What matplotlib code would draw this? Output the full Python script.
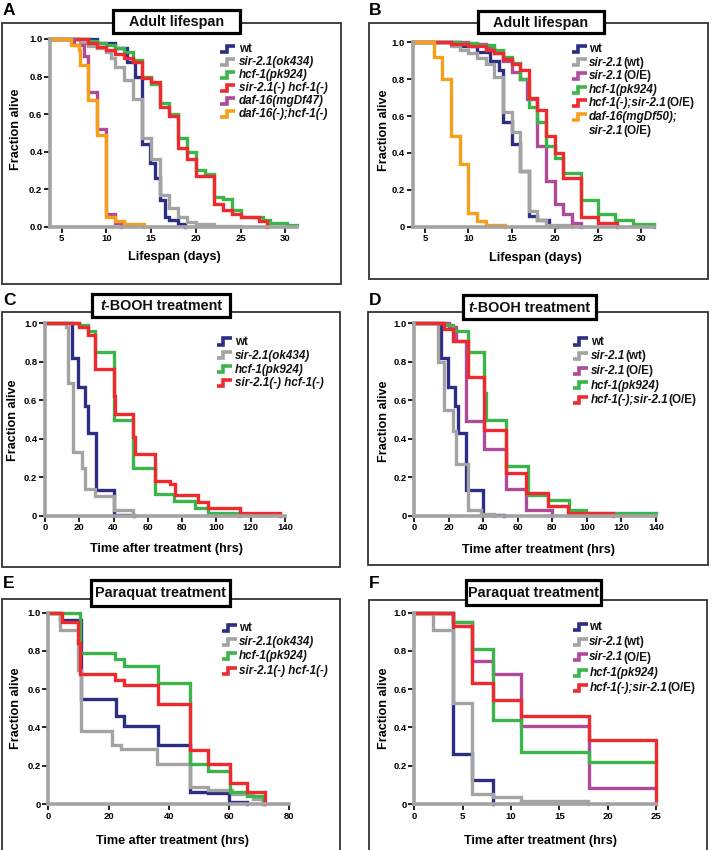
import matplotlib
matplotlib.use('Agg')
import matplotlib.pyplot as plt
from matplotlib.lines import Line2D
from matplotlib.patches import Rectangle
from matplotlib.offsetbox import TextArea, HPacker, AnnotationBbox

plt.rcParams['font.family'] = ['Liberation Sans', 'DejaVu Sans']

W, H = 712, 850

# ---------------- data (time, fraction alive) ----------------
# Panel A : adult lifespan (days)
A_wt_t = [3.7, 9, 11, 12.3, 13.2, 14, 14.9, 15.4, 16, 16.5, 17, 18, 18.8]
A_wt_s = [1.0, 0.98, 0.95, 0.88, 0.80, 0.44, 0.34, 0.26, 0.14, 0.05, 0.035, 0.014, 0.0]
A_sir_t = [3.7, 7, 8, 9, 10, 10.5, 11, 12, 13, 14, 15, 16, 17, 18, 19, 20, 22, 25]
A_sir_s = [1.0, 0.98, 0.965, 0.95, 0.93, 0.90, 0.85, 0.78, 0.68, 0.47, 0.36, 0.17, 0.10, 0.05, 0.027, 0.012, 0.005, 0.0]
A_hcf_t = [3.7, 8, 9, 10, 11, 12, 13, 14, 15, 16, 17, 18, 19, 20, 21, 22, 23, 24, 25, 27.5, 28.3, 30.2, 31.3]
A_hcf_s = [1.0, 0.99, 0.98, 0.97, 0.95, 0.93, 0.89, 0.80, 0.76, 0.66, 0.60, 0.47, 0.40, 0.30, 0.28, 0.16, 0.15, 0.09, 0.05, 0.035, 0.018, 0.009, 0.009]
A_dbl_t = [3.7, 8, 9, 10, 11, 12, 13, 14, 15, 16, 17, 18, 19, 20, 22, 23, 24, 25, 27, 28]
A_dbl_s = [1.0, 0.98, 0.96, 0.94, 0.92, 0.90, 0.88, 0.79, 0.77, 0.64, 0.59, 0.42, 0.36, 0.27, 0.12, 0.09, 0.065, 0.05, 0.03, 0.0]
A_daf_t = [3.7, 6.4, 7.5, 8, 9, 10, 11, 11.6]
A_daf_s = [1.0, 0.97, 0.91, 0.72, 0.52, 0.065, 0.02, 0.0]
A_dafhcf_t = [3.7, 6, 6.9, 7.05, 8, 9, 10, 11, 12, 14.2]
A_dafhcf_s = [1.0, 0.97, 0.94, 0.86, 0.675, 0.49, 0.05, 0.033, 0.012, 0.0]

# Panel B : adult lifespan (days)
B_wt_t = [3.58, 9, 11, 12.5, 13.5, 14, 15, 16, 17, 18, 19.3, 20.3]
B_wt_s = [1.0, 0.98, 0.95, 0.90, 0.85, 0.57, 0.45, 0.30, 0.058, 0.036, 0.005, 0.0]
B_sir_t = [3.58, 8, 9, 10, 11, 12, 13, 14, 15, 16, 17, 18, 19, 22]
B_sir_s = [1.0, 0.98, 0.96, 0.94, 0.915, 0.88, 0.81, 0.62, 0.515, 0.30, 0.085, 0.035, 0.01, 0.0]
B_oe_t = [3.58, 10, 12, 13, 14, 15, 16, 16.8, 18, 19, 20, 21, 22, 23]
B_oe_s = [1.0, 0.99, 0.97, 0.94, 0.90, 0.84, 0.80, 0.69, 0.44, 0.25, 0.125, 0.07, 0.02, 0.0]
B_hcf_t = [3.58, 9, 11, 13, 14, 15, 16, 17, 18, 19, 20, 21, 23, 25, 27, 29, 31.5]
B_hcf_s = [1.0, 0.995, 0.985, 0.96, 0.92, 0.89, 0.80, 0.65, 0.57, 0.44, 0.37, 0.29, 0.145, 0.07, 0.035, 0.015, 0.0]
B_hcfoe_t = [3.58, 8, 10, 12, 13, 14, 15, 16, 17, 18, 19, 20, 21, 23, 25, 27.2]
B_hcfoe_s = [1.0, 0.99, 0.98, 0.96, 0.94, 0.91, 0.88, 0.85, 0.70, 0.635, 0.49, 0.40, 0.265, 0.05, 0.018, 0.0]
B_daf_t = [3.58, 6, 7, 8, 9, 10, 11, 12, 14.3]
B_daf_s = [1.0, 0.92, 0.80, 0.49, 0.34, 0.075, 0.033, 0.01, 0.0]

# Panel C : t-BOOH (hrs)
C_wt_t = [0, 15.6, 19.4, 23.3, 25.3, 30, 40, 52]
C_wt_s = [1.0, 0.82, 0.67, 0.57, 0.43, 0.135, 0.005, 0.0]
C_sir_t = [0, 12, 13.6, 16.5, 21.4, 23.3, 29.2, 40, 51.5]
C_sir_s = [1.0, 0.98, 0.69, 0.33, 0.25, 0.14, 0.10, 0.03, 0.0]
C_hcf_t = [0, 20, 25, 29.2, 40, 51.5, 64, 75, 87.5, 95.3, 113]
C_hcf_s = [1.0, 0.99, 0.96, 0.85, 0.50, 0.25, 0.115, 0.075, 0.04, 0.012, 0.0]
C_dbl_t = [0, 20, 25, 29.2, 40, 41, 51.5, 52.5, 64, 73, 76, 89, 95.3, 113.7, 137]
C_dbl_s = [1.0, 0.98, 0.94, 0.76, 0.62, 0.53, 0.41, 0.32, 0.18, 0.165, 0.11, 0.07, 0.04, 0.015, 0.0]

# Panel D : t-BOOH (hrs)
D_wt_t = [0, 15.6, 19.4, 23.3, 25.3, 30, 40, 52]
D_wt_s = [1.0, 0.82, 0.67, 0.57, 0.43, 0.135, 0.005, 0.0]
D_sir_t = [0, 13.5, 17.4, 22.2, 24, 30.9, 38.6, 46]
D_sir_s = [1.0, 0.80, 0.55, 0.44, 0.27, 0.03, 0.01, 0.0]
D_oe_t = [0, 20, 24, 30, 40.5, 53.1, 64.7, 80]
D_oe_s = [1.0, 0.98, 0.91, 0.49, 0.345, 0.14, 0.03, 0.0]
D_hcf_t = [0, 17.4, 22.2, 30.9, 40.5, 41.5, 53.1, 65.7, 77.2, 89.8, 99.4, 140]
D_hcf_s = [1.0, 0.99, 0.96, 0.85, 0.64, 0.50, 0.26, 0.11, 0.08, 0.03, 0.012, 0.012]
D_hcfoe_t = [0, 17, 22.2, 30.9, 40.5, 53.1, 64.7, 77.2, 88.8, 115]
D_hcfoe_s = [1.0, 0.97, 0.91, 0.72, 0.445, 0.22, 0.12, 0.05, 0.015, 0.0]

# Panel E : paraquat (hrs)
E_wt_t = [0, 4, 11, 22.5, 25, 36.5, 47, 53, 60, 66]
E_wt_s = [1.0, 0.96, 0.55, 0.46, 0.41, 0.31, 0.065, 0.055, 0.01, 0.0]
E_sir_t = [0, 4, 10, 11, 21, 24, 36, 47, 53, 61, 68, 71.3]
E_sir_s = [1.0, 0.91, 0.70, 0.38, 0.31, 0.285, 0.21, 0.09, 0.075, 0.05, 0.025, 0.0]
E_hcf_t = [0, 10.5, 22, 25, 36.5, 47, 53, 60.3, 66, 71.3]
E_hcf_s = [1.0, 0.79, 0.76, 0.72, 0.63, 0.21, 0.17, 0.065, 0.04, 0.0]
E_dbl_t = [0, 4.4, 10, 10.5, 22, 25, 36.5, 47, 53, 60.3, 66, 72]
E_dbl_s = [1.0, 0.95, 0.84, 0.68, 0.65, 0.62, 0.525, 0.28, 0.21, 0.11, 0.065, 0.0]

# Panel F : paraquat (hrs)
F_wt_t = [0, 4, 6, 8.1]
F_wt_s = [1.0, 0.26, 0.125, 0.0]
F_sir_t = [0, 1.9, 4, 6, 8.1, 11, 18]
F_sir_s = [1.0, 0.91, 0.53, 0.05, 0.035, 0.015, 0.0]
F_oe_t = [0, 4, 6, 8.1, 11, 18.1, 25]
F_oe_s = [1.0, 0.95, 0.75, 0.68, 0.41, 0.085, 0.085]
F_hcf_t = [0, 4, 6, 8.1, 11, 18.1, 25]
F_hcf_s = [1.0, 0.95, 0.81, 0.44, 0.27, 0.22, 0.22]
F_hcfoe_t = [0, 4, 6, 8.1, 11, 18.1, 25]
F_hcfoe_s = [1.0, 0.93, 0.63, 0.545, 0.46, 0.335, 0.0]

# ---------------- styling ----------------
NAVY = '#2B2E83'
GRAY = '#A3A3A3'
GREEN = '#3BB54A'
RED = '#EE2A2E'
PURPLE = '#B04A98'
ORANGE = '#F6A01A'

IT = 'italic'
UP = 'normal'

fig = plt.figure(figsize=(W / 100, H / 100), dpi=100)


def fx(x):
    return x / W


def fy(y):
    return 1 - y / H


def seg_text(x, y, segs, size, align=(0, 0.5), z=12):
    kids = [TextArea(t, textprops=dict(fontsize=size, fontweight='bold',
                                       fontstyle=st, color='#111111'))
            for t, st in segs]
    box = HPacker(children=kids, align='baseline', pad=0, sep=0)
    ab = AnnotationBbox(box, (fx(x), fy(y)), xycoords='figure fraction',
                        box_alignment=align, frameon=False, pad=0)
    ab.set_zorder(z)
    fig.add_artist(ab)


panels = [
    dict(letter='A', lpos=(3, 3), box=(2, 23, 341, 284), tbox=(113, 10, 240, 33),
         title=[('Adult lifespan', UP)], ax=(50, 297, 39, 226.7), xlim=(3.7, 31.3),
         xticks=[5, 10, 15, 20, 25, 30], y0='0.0', xlabel='Lifespan (days)',
         xlpos=(174, 257), ylpos=(16, 129), leg=(220, 239, 49.5, 12.9),
         series=[(A_wt_t, A_wt_s, NAVY, [('wt', UP)]),
                 (A_sir_t, A_sir_s, GRAY, [('sir-2.1(ok434)', IT)]),
                 (A_hcf_t, A_hcf_s, GREEN, [('hcf-1(pk924)', IT)]),
                 (A_dbl_t, A_dbl_s, RED, [('sir-2.1(-) hcf-1(-)', IT)]),
                 (A_daf_t, A_daf_s, PURPLE, [('daf-16(mgDf47)', IT)]),
                 (A_dafhcf_t, A_dafhcf_s, ORANGE, [('daf-16(-);hcf-1(-)', IT)])]),
    dict(letter='B', lpos=(369, 3), box=(369, 23, 708, 279), tbox=(478, 11, 604, 33),
         title=[('Adult lifespan', UP)], ax=(412.7, 654.3, 42.3, 226.7), xlim=(3.58, 31.5),
         xticks=[5, 10, 15, 20, 25, 30], y0='0', xlabel='Lifespan (days)',
         xlpos=(535, 258), ylpos=(384, 130), leg=(571.5, 589, 49, 13.6),
         series=[(B_wt_t, B_wt_s, NAVY, [('wt', UP)]),
                 (B_sir_t, B_sir_s, GRAY, [('sir-2.1', IT), ('(wt)', UP)]),
                 (B_oe_t, B_oe_s, PURPLE, [('sir-2.1', IT), ('(O/E)', UP)]),
                 (B_hcf_t, B_hcf_s, GREEN, [('hcf-1(pk924)', IT)]),
                 (B_hcfoe_t, B_hcfoe_s, RED, [('hcf-1(-);sir-2.1', IT), ('(O/E)', UP)]),
                 (B_daf_t, B_daf_s, ORANGE, [('daf-16(mgDf50);', IT)])],
         extra=[('sir-2.1', IT), ('(O/E)', UP)]),
    dict(letter='C', lpos=(3, 293), box=(2, 312, 340, 567), tbox=(92, 294, 230, 317),
         title=[('t', IT), ('-BOOH treatment', UP)], ax=(45, 285, 323.3, 515.7), xlim=(0, 140),
         xticks=[0, 20, 40, 60, 80, 100, 120, 140], y0='0', xlabel='Time after treatment (hrs)',
         xlpos=(167, 549), ylpos=(13.5, 420), leg=(216.7, 235, 341.7, 13.9),
         series=[(C_wt_t, C_wt_s, NAVY, [('wt', UP)]),
                 (C_sir_t, C_sir_s, GRAY, [('sir-2.1(ok434)', IT)]),
                 (C_hcf_t, C_hcf_s, GREEN, [('hcf-1(pk924)', IT)]),
                 (C_dbl_t, C_dbl_s, RED, [('sir-2.1(-) hcf-1(-)', IT)])]),
    dict(letter='D', lpos=(369, 293), box=(368, 312, 708, 565), tbox=(463, 295, 596, 319),
         title=[('t', IT), ('-BOOH treatment', UP)], ax=(414.3, 656, 323.3, 515.7), xlim=(0, 140),
         xticks=[0, 20, 40, 60, 80, 100, 120, 140], y0='0', xlabel='Time after treatment (hrs)',
         xlpos=(538, 550), ylpos=(384, 421), leg=(572.7, 591, 341.7, 14.6),
         series=[(D_wt_t, D_wt_s, NAVY, [('wt', UP)]),
                 (D_sir_t, D_sir_s, GRAY, [('sir-2.1', IT), ('(wt)', UP)]),
                 (D_oe_t, D_oe_s, PURPLE, [('sir-2.1', IT), ('(O/E)', UP)]),
                 (D_hcf_t, D_hcf_s, GREEN, [('hcf-1(pk924)', IT)]),
                 (D_hcfoe_t, D_hcfoe_s, RED, [('hcf-1(-);sir-2.1', IT), ('(O/E)', UP)])]),
    dict(letter='E', lpos=(3, 576), box=(2, 599, 340, 870), tbox=(91, 580, 230, 606),
         title=[('Paraquat treatment', UP)], ax=(48.3, 289.3, 612.7, 804), xlim=(0, 80),
         xticks=[0, 20, 40, 60, 80], y0='0', xlabel='Time after treatment (hrs)',
         xlpos=(172.5, 841), ylpos=(16, 708.5), leg=(221.7, 239, 627.7, 14.4),
         series=[(E_wt_t, E_wt_s, NAVY, [('wt', UP)]),
                 (E_sir_t, E_sir_s, GRAY, [('sir-2.1(ok434)', IT)]),
                 (E_hcf_t, E_hcf_s, GREEN, [('hcf-1(pk924)', IT)]),
                 (E_dbl_t, E_dbl_s, RED, [('sir-2.1(-) hcf-1(-)', IT)])]),
    dict(letter='F', lpos=(369, 576), box=(369, 600, 707, 870), tbox=(466, 580, 601, 605),
         title=[('Paraquat treatment', UP)], ax=(414.3, 656, 612.7, 804), xlim=(0, 25),
         xticks=[0, 5, 10, 15, 20, 25], y0='0', xlabel='Time after treatment (hrs)',
         xlpos=(541, 841), ylpos=(384, 708.5), leg=(572.7, 589.3, 626.7, 15.4),
         series=[(F_wt_t, F_wt_s, NAVY, [('wt', UP)]),
                 (F_sir_t, F_sir_s, GRAY, [('sir-2.1', IT), ('(wt)', UP)]),
                 (F_oe_t, F_oe_s, PURPLE, [('sir-2.1', IT), ('(O/E)', UP)]),
                 (F_hcf_t, F_hcf_s, GREEN, [('hcf-1(pk924)', IT)]),
                 (F_hcfoe_t, F_hcfoe_s, RED, [('hcf-1(-);sir-2.1', IT), ('(O/E)', UP)])]),
]

for p in panels:
    # outer frame
    x0, y0, x1, y1 = p['box']
    fig.add_artist(Rectangle((fx(x0), fy(y1)), (x1 - x0) / W, (y1 - y0) / H,
                             transform=fig.transFigure, fill=False,
                             ec='#333333', lw=1.3, zorder=4))
    # title box
    tx0, ty0, tx1, ty1 = p['tbox']
    fig.add_artist(Rectangle((fx(tx0), fy(ty1)), (tx1 - tx0) / W, (ty1 - ty0) / H,
                             transform=fig.transFigure, fc='white',
                             ec='black', lw=2.3, zorder=6))
    seg_text((tx0 + tx1) / 2, (ty0 + ty1) / 2 + 0.5, p['title'], 10.4, align=(0.5, 0.5), z=8)
    # panel letter
    fig.text(fx(p['lpos'][0]), fy(p['lpos'][1]), p['letter'], fontsize=12.5,
             fontweight='bold', ha='left', va='top')

    # axes
    al, ar, at, ab_ = p['ax']
    ax = fig.add_axes([fx(al), fy(ab_), (ar - al) / W, (ab_ - at) / H])
    ax.patch.set_visible(False)
    for t, s, c, lab in p['series']:
        ax.plot(t, s, drawstyle='steps-post', color=c, lw=2.4, clip_on=False,
                solid_joinstyle='miter')
    ax.set_xlim(*p['xlim'])
    ax.set_ylim(0, 1)
    ax.spines['top'].set_visible(False)
    ax.spines['right'].set_visible(False)
    for side in ('left', 'bottom'):
        ax.spines[side].set_color(GRAY)
        ax.spines[side].set_linewidth(2.6)
    ax.set_xticks(p['xticks'])
    ax.set_xticklabels([str(v) for v in p['xticks']], fontsize=6.8, fontweight='bold')
    yt = [0, 0.2, 0.4, 0.6, 0.8, 1.0]
    ax.set_yticks(yt)
    ax.set_yticklabels([p['y0'], '0.2', '0.4', '0.6', '0.8', '1.0'],
                       fontsize=6.8, fontweight='bold')
    ax.tick_params(direction='out', length=4, width=1.2, color='black', pad=1.5)

    # axis labels
    fig.text(fx(p['xlpos'][0]), fy(p['xlpos'][1]), p['xlabel'], fontsize=9.1,
             fontweight='bold', ha='center', va='center')
    fig.text(fx(p['ylpos'][0]), fy(p['ylpos'][1]), 'Fraction alive', fontsize=9.1,
             fontweight='bold', ha='center', va='center', rotation=90)

    # legend
    gx, txl, ly0, ldy = p['leg']
    for i, (t, s, c, lab) in enumerate(p['series']):
        yc = ly0 + i * ldy
        xs = [gx, gx + 6.5, gx + 6.5, gx + 15]
        ys = [yc + 2.8, yc + 2.8, yc - 3.2, yc - 3.2]
        fig.add_artist(Line2D([fx(v) for v in xs], [fy(v) for v in ys],
                              transform=fig.transFigure, color=c, lw=2.6,
                              solid_joinstyle='miter', solid_capstyle='butt', zorder=10))
        seg_text(txl, yc, lab, 8.4)
    if 'extra' in p:
        yc = ly0 + len(p['series']) * ldy
        seg_text(txl, yc, p['extra'], 8.4)

fig.savefig('out.png', dpi=100)
